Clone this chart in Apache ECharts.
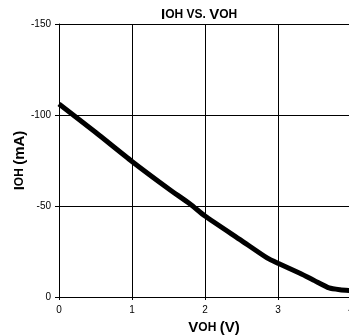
<!DOCTYPE html>
<html><head><meta charset="utf-8">
<script src="https://cdn.jsdelivr.net/npm/echarts@6/dist/echarts.min.js"></script>
<style>html,body{margin:0;padding:0;background:#fff}#c{width:349px;height:336px}</style>
</head><body><div id="c"></div>
<script>
const voh = [0, 0.5, 1, 1.5, 1.8, 2, 2.5, 2.85, 3, 3.3, 3.5, 3.7, 3.85, 4];
const ioh = [-106, -90.5, -74.5, -59.5, -51, -44.5, -31, -21.5, -18.5, -13, -9, -5, -4, -3.5];
const xTicks = [0, 1, 2, 3, 4];
const yTicks = [-150, -100, -50, 0];

const font = 'Liberation Sans, Arial, Helvetica, sans-serif';
const chart = echarts.init(document.getElementById('c'));
chart.setOption({
  animation: false,
  backgroundColor: '#fff',
  title: {
    text: '{b|I}{s|OH VS. }{b|V}{s|OH}',
    left: 156, top: 2,
    textStyle: {
      rich: {
        b: {fontFamily: font, fontWeight: 'bold', fontSize: 15, color: '#000'},
        s: {fontFamily: font, fontWeight: 'bold', fontSize: 12, color: '#000'}
      }
    }
  },
  grid: {left: 59, right: -2, top: 24, bottom: 39, containLabel: false, outerBoundsMode: 'none'},
  xAxis: {
    type: 'value', min: 0, max: 4, interval: 1,
    name: '{b|V}{s|OH} {b|(V)}', nameLocation: 'middle', nameGap: 22,
    nameTextStyle: {padding: [0, 0, 0, 18], rich: {
      b: {fontFamily: font, fontWeight: 'bold', fontSize: 15, color: '#000'},
      s: {fontFamily: font, fontWeight: 'bold', fontSize: 12, color: '#000'}
    }},
    axisLine: {show: true, lineStyle: {color: '#000', width: 1}},
    axisTick: {show: true, length: 3, lineStyle: {color: '#000'}},
    axisLabel: {color: '#000', fontFamily: font, fontSize: 10, margin: 8,
      formatter: v => xTicks.includes(v) ? String(v) : ''},
    splitLine: {show: true, lineStyle: {color: '#000', width: 1}}
  },
  yAxis: {
    type: 'value', min: -150, max: 0, interval: 50, inverse: true,
    name: '{b|I}{s|OH} {b|(mA)}', nameLocation: 'middle', nameGap: 32, nameRotate: 90,
    nameMoveOverlap: false,
    nameTextStyle: {rich: {
      b: {fontFamily: font, fontWeight: 'bold', fontSize: 15, color: '#000'},
      s: {fontFamily: font, fontWeight: 'bold', fontSize: 12, color: '#000'}
    }},
    axisLine: {show: true, lineStyle: {color: '#000', width: 1}},
    axisTick: {show: true, length: 4, lineStyle: {color: '#000'}},
    axisLabel: {color: '#000', fontFamily: font, fontSize: 10, margin: 8, padding: [0, 0, 12, 0],
      formatter: v => yTicks.includes(v) ? String(v) : ''},
    splitLine: {show: true, lineStyle: {color: '#000', width: 1}}
  },
  series: [{
    type: 'line',
    data: voh.map((v, i) => [v, ioh[i]]),
    showSymbol: false, smooth: 0.2,
    lineStyle: {color: '#000', width: 5},
    clip: false
  }]
});
</script></body></html>
